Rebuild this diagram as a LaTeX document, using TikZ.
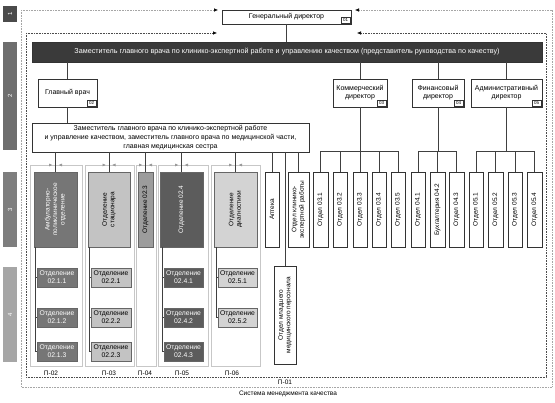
\documentclass[tikz,border=0pt]{standalone}
\usepackage{fontspec}
\setmainfont{Liberation Sans}
\usetikzlibrary{arrows.meta,calc}
\definecolor{lvA}{HTML}{4B4B4B}
\definecolor{lvB}{HTML}{6E6E6E}
\definecolor{lvC}{HTML}{7E7E7E}
\definecolor{lvD}{HTML}{A6A6A6}
\definecolor{barc}{HTML}{3A3A3A}
\definecolor{cAmb}{HTML}{767676}
\definecolor{cStac}{HTML}{C3C3C3}
\definecolor{cTri}{HTML}{9C9C9C}
\definecolor{cFour}{HTML}{5C5C5C}
\definecolor{cDiag}{HTML}{D3D3D3}
\newcommand\bx[7]{\node[#6,minimum width={(#4-#2)*1pt},minimum height={(#5-#3)*1pt}] (#1) at ({(#2+#4)/2},{(#3+#5)/2}) {#7};}
\newcommand\vtx[3][]{\node[vtext,#1] (#2-t) at (#2.center) {#3};}
\newcommand\tg[2]{\node[tagbox,anchor=south east] (#1-tag) at ($(#1.south east)+(-0.8,-0.8)$) {#2};}
\begin{document}
\begin{tikzpicture}[x=1pt,y=-1pt,
  every node/.style={font=\fontsize{7}{8.2}\selectfont},
  box/.style={draw=black!80,line width=0.5pt,fill=white,inner sep=0pt,outer sep=0pt,align=center},
  conn/.style={draw=black!75,line width=0.5pt},
  pbox/.style={draw=black!22,line width=0.7pt,inner sep=0pt,outer sep=0pt},
  parrow/.style={draw=black!22,line width=0.7pt,-{Latex[length=3.5pt,width=3.2pt,color=black!40]}},
  lvl/.style={draw=none,inner sep=0pt,outer sep=0pt},
  lvltext/.style={rotate=90,text=white,font=\fontsize{6}{7}\selectfont,inner sep=0pt},
  vtext/.style={rotate=90,align=center,font=\fontsize{6.5}{7.5}\selectfont,inner sep=0pt},
  subtext/.style={font=\fontsize{6.8}{7.8}\selectfont},
  tagbox/.style={draw=black!80,line width=0.3pt,fill=white,font=\fontsize{4.5}{5}\selectfont,inner sep=0.4pt,minimum width=9pt,minimum height=6pt},
  plabel/.style={font=\fontsize{6.5}{7}\selectfont,inner sep=0pt},
  outerline/.style={draw=black!35,line width=0.6pt,densely dotted},
  innerline/.style={draw=black!70,line width=0.6pt,densely dotted},
  tip/.style={-{Latex[length=4pt,width=3.6pt,color=black]}}
]
\useasboundingbox (0,0) rectangle (555,403);
% level bars
\bx{l1}{3}{6}{17}{22}{lvl,fill=lvA}{}
\bx{l2}{3}{42}{17}{150}{lvl,fill=lvB}{}
\bx{l3}{3}{172}{17}{247}{lvl,fill=lvC}{}
\bx{l4}{3}{267}{17}{362}{lvl,fill=lvD}{}
\foreach \i in {1,...,4} \node[lvltext] (l\i-t) at (l\i) {\i};
% frames
\draw[outerline] (21,10) -- (21,387) -- (552,387) -- (552,10);
\draw[innerline] (26,33) -- (26,377) -- (546,377) -- (546,33);
% process boxes
\bx{P02}{30}{165}{82}{366}{pbox}{}
\bx{P03}{85}{165}{134}{366}{pbox}{}
\bx{P04}{136}{165}{156}{366}{pbox}{}
\bx{P05}{158}{165}{208}{366}{pbox}{}
\bx{P06}{211}{165}{260}{366}{pbox}{}
\node[plabel] (P02-l) at (51,373) {П-02};
\node[plabel] (P03-l) at (109,373) {П-03};
\node[plabel] (P04-l) at (145,373) {П-04};
\node[plabel] (P05-l) at (182,373) {П-05};
\node[plabel] (P06-l) at (232,373) {П-06};
\node[plabel] (P01-l) at (285,382.5) {П-01};
\node[plabel] (qms) at (288,394) {Система менеджмента качества};
% general director
\bx{gd}{222}{10}{351}{24}{box}{Генеральный директор}
\tg{gd}{01}
\draw[outerline,tip] (21,10) -- ($(gd.north west)+(-4,0)$);
\draw[outerline,tip] (552,10) -- ($(gd.north east)+(4,0)$);
\coordinate (inL) at (217,33);
\coordinate (inR) at (357,33);
\draw[innerline,tip] (26,33) -- (inL);
\draw[innerline,tip] (546,33) -- (inR);
% dark bar
\bx{bar}{32}{42}{542}{62}{box,fill=barc,text=white,font=\fontsize{7.2}{8}\selectfont}{Заместитель главного врача по клинико-экспертной работе и управлению качеством (представитель руководства по качеству)}
\draw[conn] (gd.south) -- (gd.south |- bar.north);
% level 2 boxes
\bx{gv}{38}{79}{97}{107}{box}{Главный врач}
\tg{gv}{02}
\bx{kom}{333}{79}{387}{107}{box}{Коммерческий\\директор}
\tg{kom}{03}
\bx{fin}{412}{79}{464}{107}{box}{Финансовый\\директор}
\tg{fin}{04}
\bx{adm}{471}{79}{542}{107}{box}{Административный\\директор}
\tg{adm}{05}
\foreach \n in {gv,kom,fin,adm} \draw[conn] (bar.south -| \n.north) -- (\n.north);
\bx{wide}{32}{123}{309}{152}{box,font=\fontsize{7}{9}\selectfont}{Заместитель главного врача по клинико-экспертной работе\\и управление качеством, заместитель главного врача по медицинской части,\\главная медицинская сестра}
\draw[conn] (gv.south) -- (gv.south |- wide.north);
% level 3
\bx{amb}{34}{172}{77}{247}{box,fill=cAmb,draw=black!60}{}
\vtx[text=white]{amb}{Амбулаторно-\\поликлиническое\\отделение}
\bx{stac}{88}{172}{130}{247}{box,fill=cStac,draw=black!60}{}
\vtx{stac}{Отделение\\стационара}
\bx{o23}{138}{172}{153}{247}{box,fill=cTri,draw=black!60}{}
\vtx{o23}{Отделение 02.3}
\bx{o24}{160}{172}{203}{247}{box,fill=cFour,draw=black!60}{}
\vtx[text=white]{o24}{Отделение 02.4}
\bx{diag}{214}{172}{257}{247}{box,fill=cDiag,draw=black!60}{}
\vtx{diag}{Отделение\\диагностики}
\bx{apt}{265}{172}{279}{247}{box}{}
\vtx{apt}{Аптека}
\bx{oke}{288}{172}{309}{247}{box}{}
\vtx{oke}{Отдел клинико-\\экспертной работы}
\bx{omp}{274}{266}{296}{364}{box}{}
\vtx{omp}{Отдел младшего\\медицинского персонала}
\foreach \n in {amb,stac,o23,o24,diag,apt,oke,omp} \draw[conn] (wide.south -| \n.north) -- (\n.north);
\foreach \p/\n in {P02/amb,P03/stac,P04/o23,P05/o24,P06/diag}{
  \draw[parrow] (\p.north west) -- ($(\n.north |- \p.north)+(-3,0)$);
  \draw[parrow] (\p.north east) -- ($(\n.north |- \p.north)+(3,0)$);
}
% departments 03, 04, 05
\bx{o031}{313}{172}{328}{247}{box}{}\vtx{o031}{Отдел 03.1}
\bx{o032}{333}{172}{347}{247}{box}{}\vtx{o032}{Отдел 03.2}
\bx{o033}{353}{172}{367}{247}{box}{}\vtx{o033}{Отдел 03.3}
\bx{o034}{372}{172}{386}{247}{box}{}\vtx{o034}{Отдел 03.4}
\bx{o035}{391}{172}{405}{247}{box}{}\vtx{o035}{Отдел 03.5}
\bx{o041}{411}{172}{425}{247}{box}{}\vtx{o041}{Отдел 04.1}
\bx{o042}{430}{172}{445}{247}{box}{}\vtx{o042}{Бухгалтерия 04.2}
\bx{o043}{449}{172}{464}{247}{box}{}\vtx{o043}{Отдел 04.3}
\bx{o051}{469}{172}{483}{247}{box}{}\vtx{o051}{Отдел 05.1}
\bx{o052}{488}{172}{503}{247}{box}{}\vtx{o052}{Отдел 05.2}
\bx{o053}{508}{172}{522}{247}{box}{}\vtx{o053}{Отдел 05.3}
\bx{o054}{527}{172}{542}{247}{box}{}\vtx{o054}{Отдел 05.4}
\coordinate (bus) at (0,151);
\draw[conn] (kom.south) -- (kom.south |- bus);
\draw[conn] (o031.north) -- (o031.north |- bus) -- (o035.north |- bus) -- (o035.north);
\foreach \n in {o032,o033,o034} \draw[conn] (\n.north) -- (\n.north |- bus);
\draw[conn] (fin.south) -- (fin.south |- bus);
\draw[conn] (o041.north) -- (o041.north |- bus) -- (o043.north |- bus) -- (o043.north);
\draw[conn] (o042.north) -- (o042.north |- bus);
\draw[conn] (adm.south) -- (adm.south |- bus);
\draw[conn] (o051.north) -- (o051.north |- bus) -- (o054.north |- bus) -- (o054.north);
\foreach \n in {o052,o053} \draw[conn] (\n.north) -- (\n.north |- bus);
% level 4
\bx{o211}{37}{268}{77}{287}{box,fill=cAmb,draw=black!60,text=white,subtext}{Отделение\\02.1.1}
\bx{o212}{37}{308}{77}{327}{box,fill=cAmb,draw=black!60,text=white,subtext}{Отделение\\02.1.2}
\bx{o213}{37}{342}{77}{361}{box,fill=cAmb,draw=black!60,text=white,subtext}{Отделение\\02.1.3}
\bx{o221}{91}{268}{131}{287}{box,fill=cStac,draw=black!60,subtext}{Отделение\\02.2.1}
\bx{o222}{91}{308}{131}{327}{box,fill=cStac,draw=black!60,subtext}{Отделение\\02.2.2}
\bx{o223}{91}{342}{131}{361}{box,fill=cStac,draw=black!60,subtext}{Отделение\\02.2.3}
\bx{o241}{164}{268}{203}{287}{box,fill=cFour,draw=black!60,text=white,subtext}{Отделение\\02.4.1}
\bx{o242}{164}{308}{203}{327}{box,fill=cFour,draw=black!60,text=white,subtext}{Отделение\\02.4.2}
\bx{o243}{164}{342}{203}{361}{box,fill=cFour,draw=black!60,text=white,subtext}{Отделение\\02.4.3}
\bx{o251}{218}{268}{257}{287}{box,fill=cDiag,draw=black!60,subtext}{Отделение\\02.5.1}
\bx{o252}{218}{308}{257}{327}{box,fill=cDiag,draw=black!60,subtext}{Отделение\\02.5.2}
\coordinate (c1) at ($(amb.south west)+(1.5,0)$);
\draw[conn] (c1) |- (o213.west);
\foreach \n in {o211,o212} \draw[conn] (c1 |- \n.west) -- (\n.west);
\coordinate (c2) at ($(stac.south west)+(1.5,0)$);
\draw[conn] (c2) |- (o223.west);
\foreach \n in {o221,o222} \draw[conn] (c2 |- \n.west) -- (\n.west);
\coordinate (c4) at ($(o24.south west)+(1.8,0)$);
\draw[conn] (c4) |- (o243.west);
\foreach \n in {o241,o242} \draw[conn] (c4 |- \n.west) -- (\n.west);
\coordinate (c5) at ($(diag.south west)+(1.8,0)$);
\draw[conn] (c5) |- (o252.west);
\draw[conn] (c5 |- o251.west) -- (o251.west);
\end{tikzpicture}
\end{document}
